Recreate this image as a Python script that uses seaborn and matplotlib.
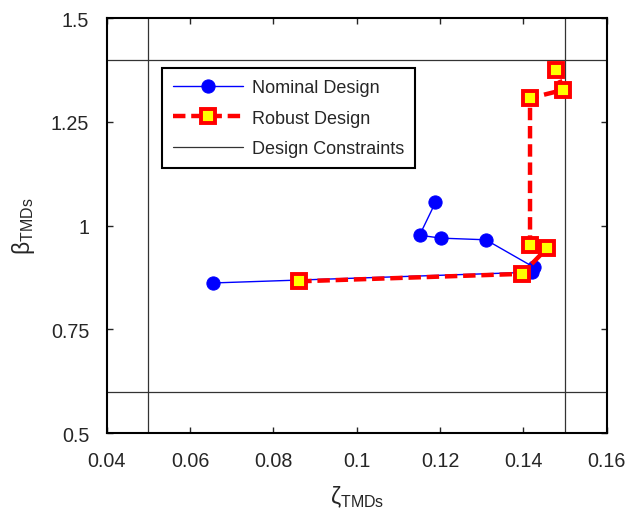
import matplotlib

matplotlib.use("Agg")
import matplotlib.pyplot as plt
import pandas as pd
import seaborn as sns

# values
nominal_zeta = [0.0654, 0.1421, 0.1425, 0.1310, 0.1202, 0.1151, 0.1189]
nominal_beta = [0.862, 0.888, 0.900, 0.966, 0.970, 0.977, 1.056]
robust_zeta = [0.0862, 0.1397, 0.1457, 0.1416, 0.1416, 0.1496, 0.1478]
robust_beta = [0.866, 0.884, 0.946, 0.954, 1.307, 1.327, 1.375]
zeta_limits = [0.05, 0.15]
beta_limits = [0.6, 1.4]
x_ticks = [0.04, 0.06, 0.08, 0.1, 0.12, 0.14, 0.16]
x_tick_labels = ["0.04", "0.06", "0.08", "0.1", "0.12", "0.14", "0.16"]
y_ticks = [0.5, 0.75, 1.0, 1.25, 1.5]
y_tick_labels = ["0.5", "0.75", "1", "1.25", "1.5"]

sns.set_style("ticks")
plt.rcParams["font.family"] = ["Liberation Sans", "DejaVu Sans"]
plt.rcParams["mathtext.fontset"] = "custom"
plt.rcParams["mathtext.rm"] = "Liberation Sans"
plt.rcParams["mathtext.it"] = "Liberation Sans:italic"

nominal = pd.DataFrame({"zeta": nominal_zeta, "beta": nominal_beta})
robust = pd.DataFrame({"zeta": robust_zeta, "beta": robust_beta})

fig = plt.figure(figsize=(6.25, 5.1), dpi=100)
ax = fig.add_axes([0.1707, 0.1484, 0.8, 0.8143])

sns.lineplot(
    data=nominal, x="zeta", y="beta", sort=False, estimator=None, ax=ax,
    color="#0000ff", linewidth=1.0, marker="o", markersize=9.5,
    markeredgecolor="#0000ff", label="Nominal Design", zorder=3,
)
sns.lineplot(
    data=robust, x="zeta", y="beta", sort=False, estimator=None, ax=ax,
    color="#ff0000", linewidth=3.2, linestyle=(0, (2.8, 1.3)), marker="s",
    markersize=10, markerfacecolor="#ffff00", markeredgecolor="#ff0000",
    markeredgewidth=2.8, label="Robust Design", zorder=4,
)

for i, z in enumerate(zeta_limits):
    ax.axvline(z, color="#333333", linewidth=0.9, zorder=1,
               label="Design Constraints" if i == 0 else None)
for b in beta_limits:
    ax.axhline(b, color="#333333", linewidth=0.9, zorder=1)

ax.set_xlim(0.04, 0.16)
ax.set_ylim(0.5, 1.5)
ax.set_xticks(x_ticks)
ax.set_xticklabels(x_tick_labels)
ax.set_yticks(y_ticks)
ax.set_yticklabels(y_tick_labels)
ax.tick_params(direction="in", length=4, width=1, labelsize=14.2,
               top=True, right=True, pad=12.5)
for spine in ax.spines.values():
    spine.set_linewidth(1.5)
    spine.set_color("black")

ax.set_xlabel("ζ$_{\\mathrm{TMDs}}$", fontsize=16.5, labelpad=10)
ax.set_ylabel("β$_{\\mathrm{TMDs}}$", fontsize=16.5, labelpad=10)

leg = ax.legend(
    loc="upper left", bbox_to_anchor=(0.11, 0.879), borderaxespad=0,
    fontsize=13, frameon=True, fancybox=False, handlelength=3.9,
    handletextpad=0.5, labelspacing=0.75, borderpad=0.6,
)
leg.get_frame().set_edgecolor("black")
leg.get_frame().set_linewidth(1.5)
leg.get_frame().set_alpha(1)

fig.savefig("out.png", dpi=100)
plt.close(fig)
